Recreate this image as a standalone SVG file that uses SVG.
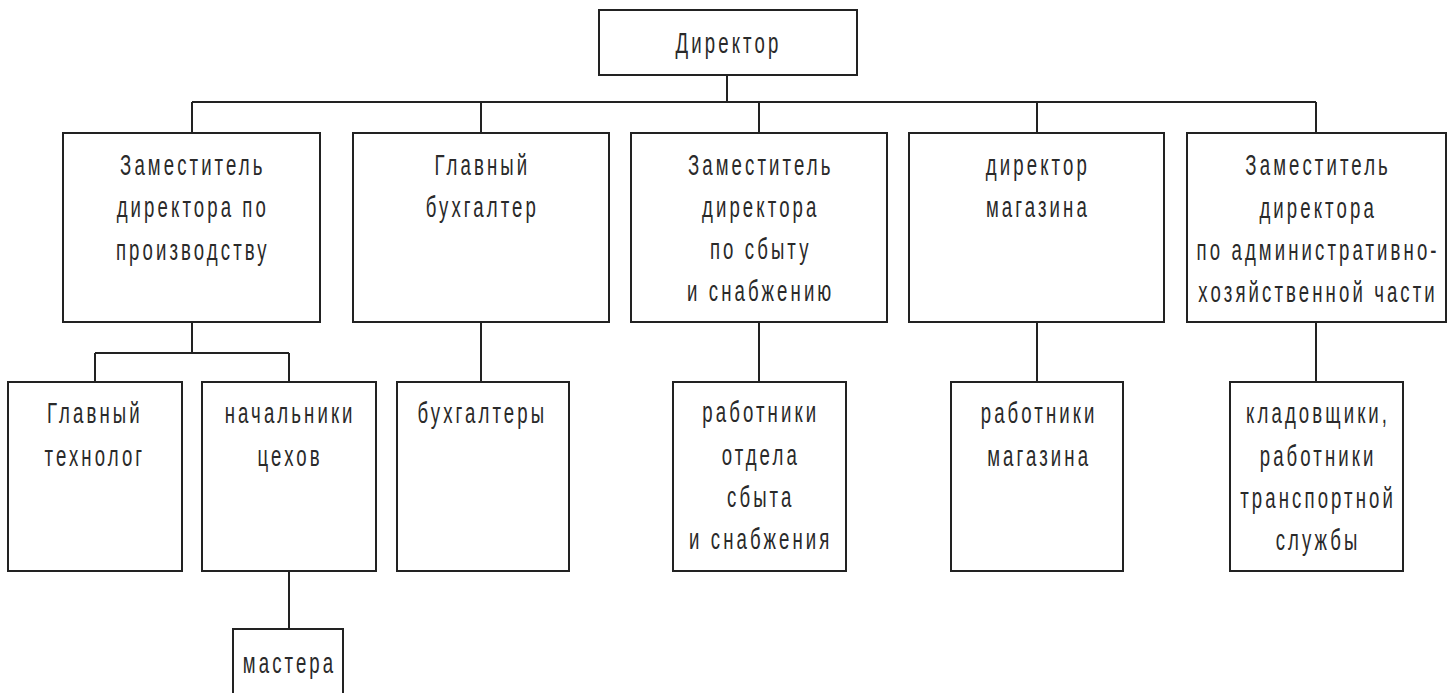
<svg xmlns="http://www.w3.org/2000/svg" width="1453" height="693" viewBox="0 0 1453 693">
<style>
.box{fill:#fff;stroke:#222;stroke-width:2}
.ln{fill:none;stroke:#222;stroke-width:2}
text{font-family:"Liberation Sans",Arial,sans-serif;font-size:30px;letter-spacing:5px;fill:#2a2a2a;text-anchor:middle}
</style>
<rect width="1453" height="693" fill="#fff"/>
<g id="connectors">
<path class="ln" d="M727 75V102M192 102H1316M192 102V133M481 102V133M759 102V133M1037 102V133M1316 102V133"/>
<path class="ln" d="M192 322V353M95 353H289M95 353V382M289 353V382M289 571V629"/>
<path class="ln" d="M481 322V382M759 322V382M1037 322V382M1316 322V382"/>
</g>
<g id="director"><rect class="box" x="599" y="10" width="258" height="65"/></g>
<g id="dep-prod"><rect class="box" x="63" y="133" width="257" height="189"/></g>
<g id="chief-acc"><rect class="box" x="353" y="133" width="256" height="189"/></g>
<g id="dep-sales"><rect class="box" x="631" y="133" width="256" height="189"/></g>
<g id="shop-dir"><rect class="box" x="909" y="133" width="255" height="189"/></g>
<g id="dep-admin"><rect class="box" x="1187" y="133" width="259" height="189"/></g>
<g id="technologist"><rect class="box" x="8" y="382" width="174" height="189"/></g>
<g id="shop-heads"><rect class="box" x="202" y="382" width="174" height="189"/></g>
<g id="masters"><rect class="box" x="233" y="629" width="110" height="66"/></g>
<g id="accountants"><rect class="box" x="397" y="382" width="172" height="189"/></g>
<g id="sales-staff"><rect class="box" x="673" y="382" width="173" height="189"/></g>
<g id="shop-staff"><rect class="box" x="951" y="382" width="172" height="189"/></g>
<g id="storekeepers"><rect class="box" x="1230" y="382" width="173" height="189"/></g>
<g id="labels" transform="scale(0.62,1)">
<text x="1175" y="53">Директор</text>
<text x="311" y="175">Заместитель</text>
<text x="311" y="217">директора по</text>
<text x="311" y="260">производству</text>
<text x="778" y="175">Главный</text>
<text x="778" y="217">бухгалтер</text>
<text x="1227" y="175">Заместитель</text>
<text x="1227" y="217">директора</text>
<text x="1227" y="259">по сбыту</text>
<text x="1227" y="301">и снабжению</text>
<text x="1674" y="175">директор</text>
<text x="1674" y="217">магазина</text>
<text x="2126" y="175">Заместитель</text>
<text x="2126" y="218">директора</text>
<text x="2126" y="260">по административно-</text>
<text x="2126" y="302">хозяйственной части</text>
<text x="153" y="423">Главный</text>
<text x="153" y="466">технолог</text>
<text x="468" y="423">начальники</text>
<text x="468" y="466">цехов</text>
<text x="467" y="673">мастера</text>
<text x="778" y="423">бухгалтеры</text>
<text x="1227" y="422">работники</text>
<text x="1227" y="465">отдела</text>
<text x="1227" y="507">сбыта</text>
<text x="1227" y="549">и снабжения</text>
<text x="1676" y="423">работники</text>
<text x="1676" y="466">магазина</text>
<text x="2126" y="423">кладовщики,</text>
<text x="2126" y="466">работники</text>
<text x="2126" y="508">транспортной</text>
<text x="2126" y="550">службы</text>
</g>
</svg>
